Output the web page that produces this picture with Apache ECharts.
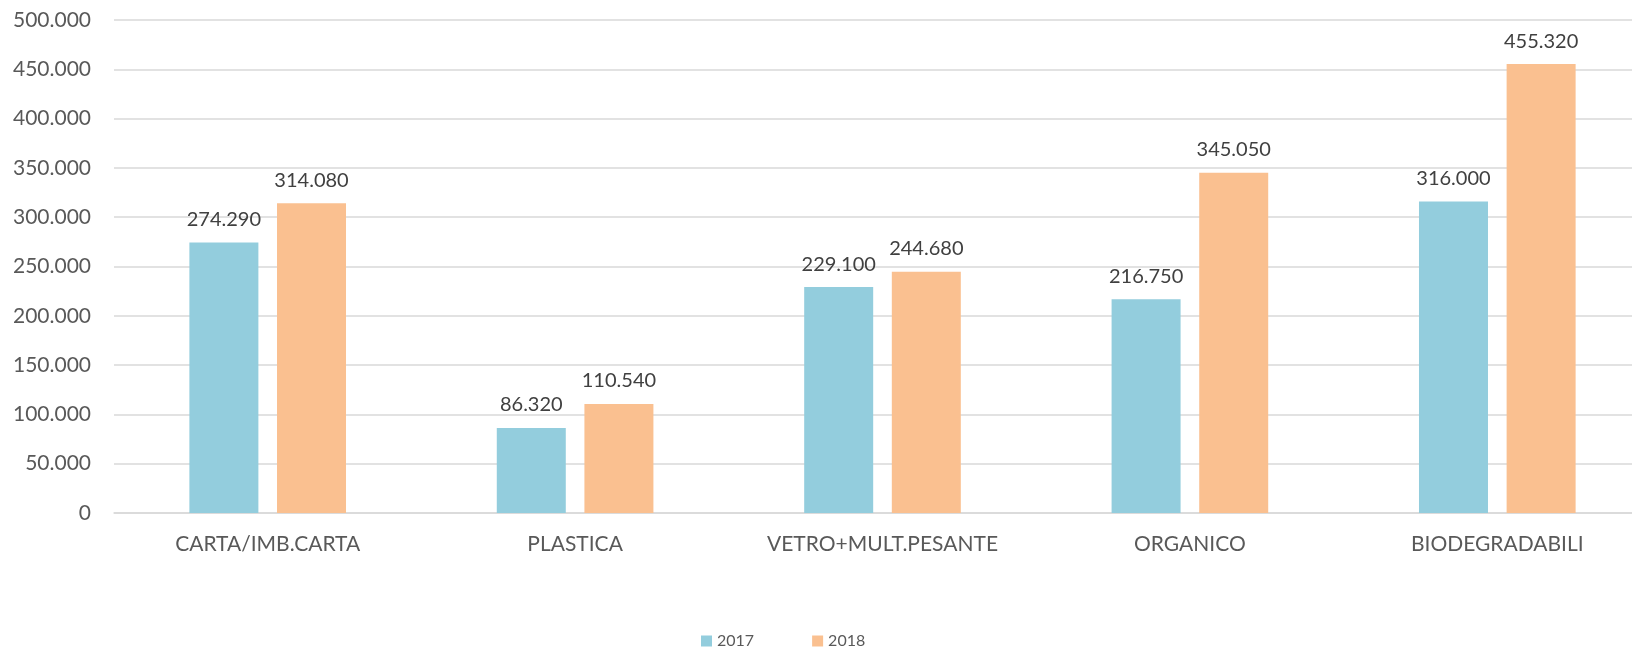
<!DOCTYPE html>
<html>
<head>
<meta charset="utf-8">
<script src="https://cdn.jsdelivr.net/npm/echarts@6/dist/echarts.min.js"></script>
<style>
  html, body { margin: 0; padding: 0; background: #fff; overflow: hidden; }
  /* plot area runs a little past the right edge of the window, as in the source */
  #chart { width: 1651px; height: 654px; }
</style>
</head>
<body>
<div id="chart"></div>
<script>
const categories = ['CARTA/IMB.CARTA', 'PLASTICA', 'VETRO+MULT.PESANTE', 'ORGANICO', 'BIODEGRADABILI'];
const values2017 = [274290, 86320, 229100, 216750, 316000];
const values2018 = [314080, 110540, 244680, 345050, 455320];
const seriesNames = ['2017', '2018'];

// 1234567 -> "1.234.567"
function fmt(v) {
  return String(Math.round(v)).replace(/\B(?=(\d{3})+(?!\d))/g, '.');
}

const chart = echarts.init(document.getElementById('chart'));
const labelStyle = {
  show: true,
  position: 'top',
  distance: 13,
  color: '#404040',
  fontFamily: 'Lato',
  fontSize: 20,
  formatter: p => fmt(p.value),
};

chart.setOption({
  animation: false,
  textStyle: { fontFamily: 'Lato' },
  grid: { left: 114, right: 0, top: 20, bottom: 141 },
  legend: {
    left: 696,
    bottom: 0,
    itemWidth: 11,
    itemHeight: 11,
    itemGap: 58,
    icon: 'rect',
    textStyle: { color: '#595959', fontSize: 16, fontFamily: 'Lato' },
    data: seriesNames,
  },
  xAxis: {
    type: 'category',
    data: categories,
    axisTick: { show: false },
    axisLine: { lineStyle: { color: '#d9d9d9', width: 1.5 } },
    axisLabel: { color: '#595959', fontSize: 21, margin: 21 },
  },
  yAxis: {
    type: 'value',
    min: 0,
    max: 500000,
    interval: 50000,
    axisLine: { show: false },
    axisTick: { show: false },
    splitLine: { lineStyle: { color: '#d9d9d9', width: 1.5 } },
    axisLabel: {
      color: '#595959',
      fontSize: 21,
      margin: 23,
      formatter: v => fmt(v),
    },
  },
  series: [
    {
      name: seriesNames[0],
      type: 'bar',
      data: values2017,
      barWidth: 69,
      barGap: '27%',
      itemStyle: { color: '#93cddd' },
      label: labelStyle,
    },
    {
      name: seriesNames[1],
      type: 'bar',
      data: values2018,
      barWidth: 69,
      barGap: '27%',
      itemStyle: { color: '#fac090' },
      label: labelStyle,
    },
  ],
});
</script>
</body>
</html>
